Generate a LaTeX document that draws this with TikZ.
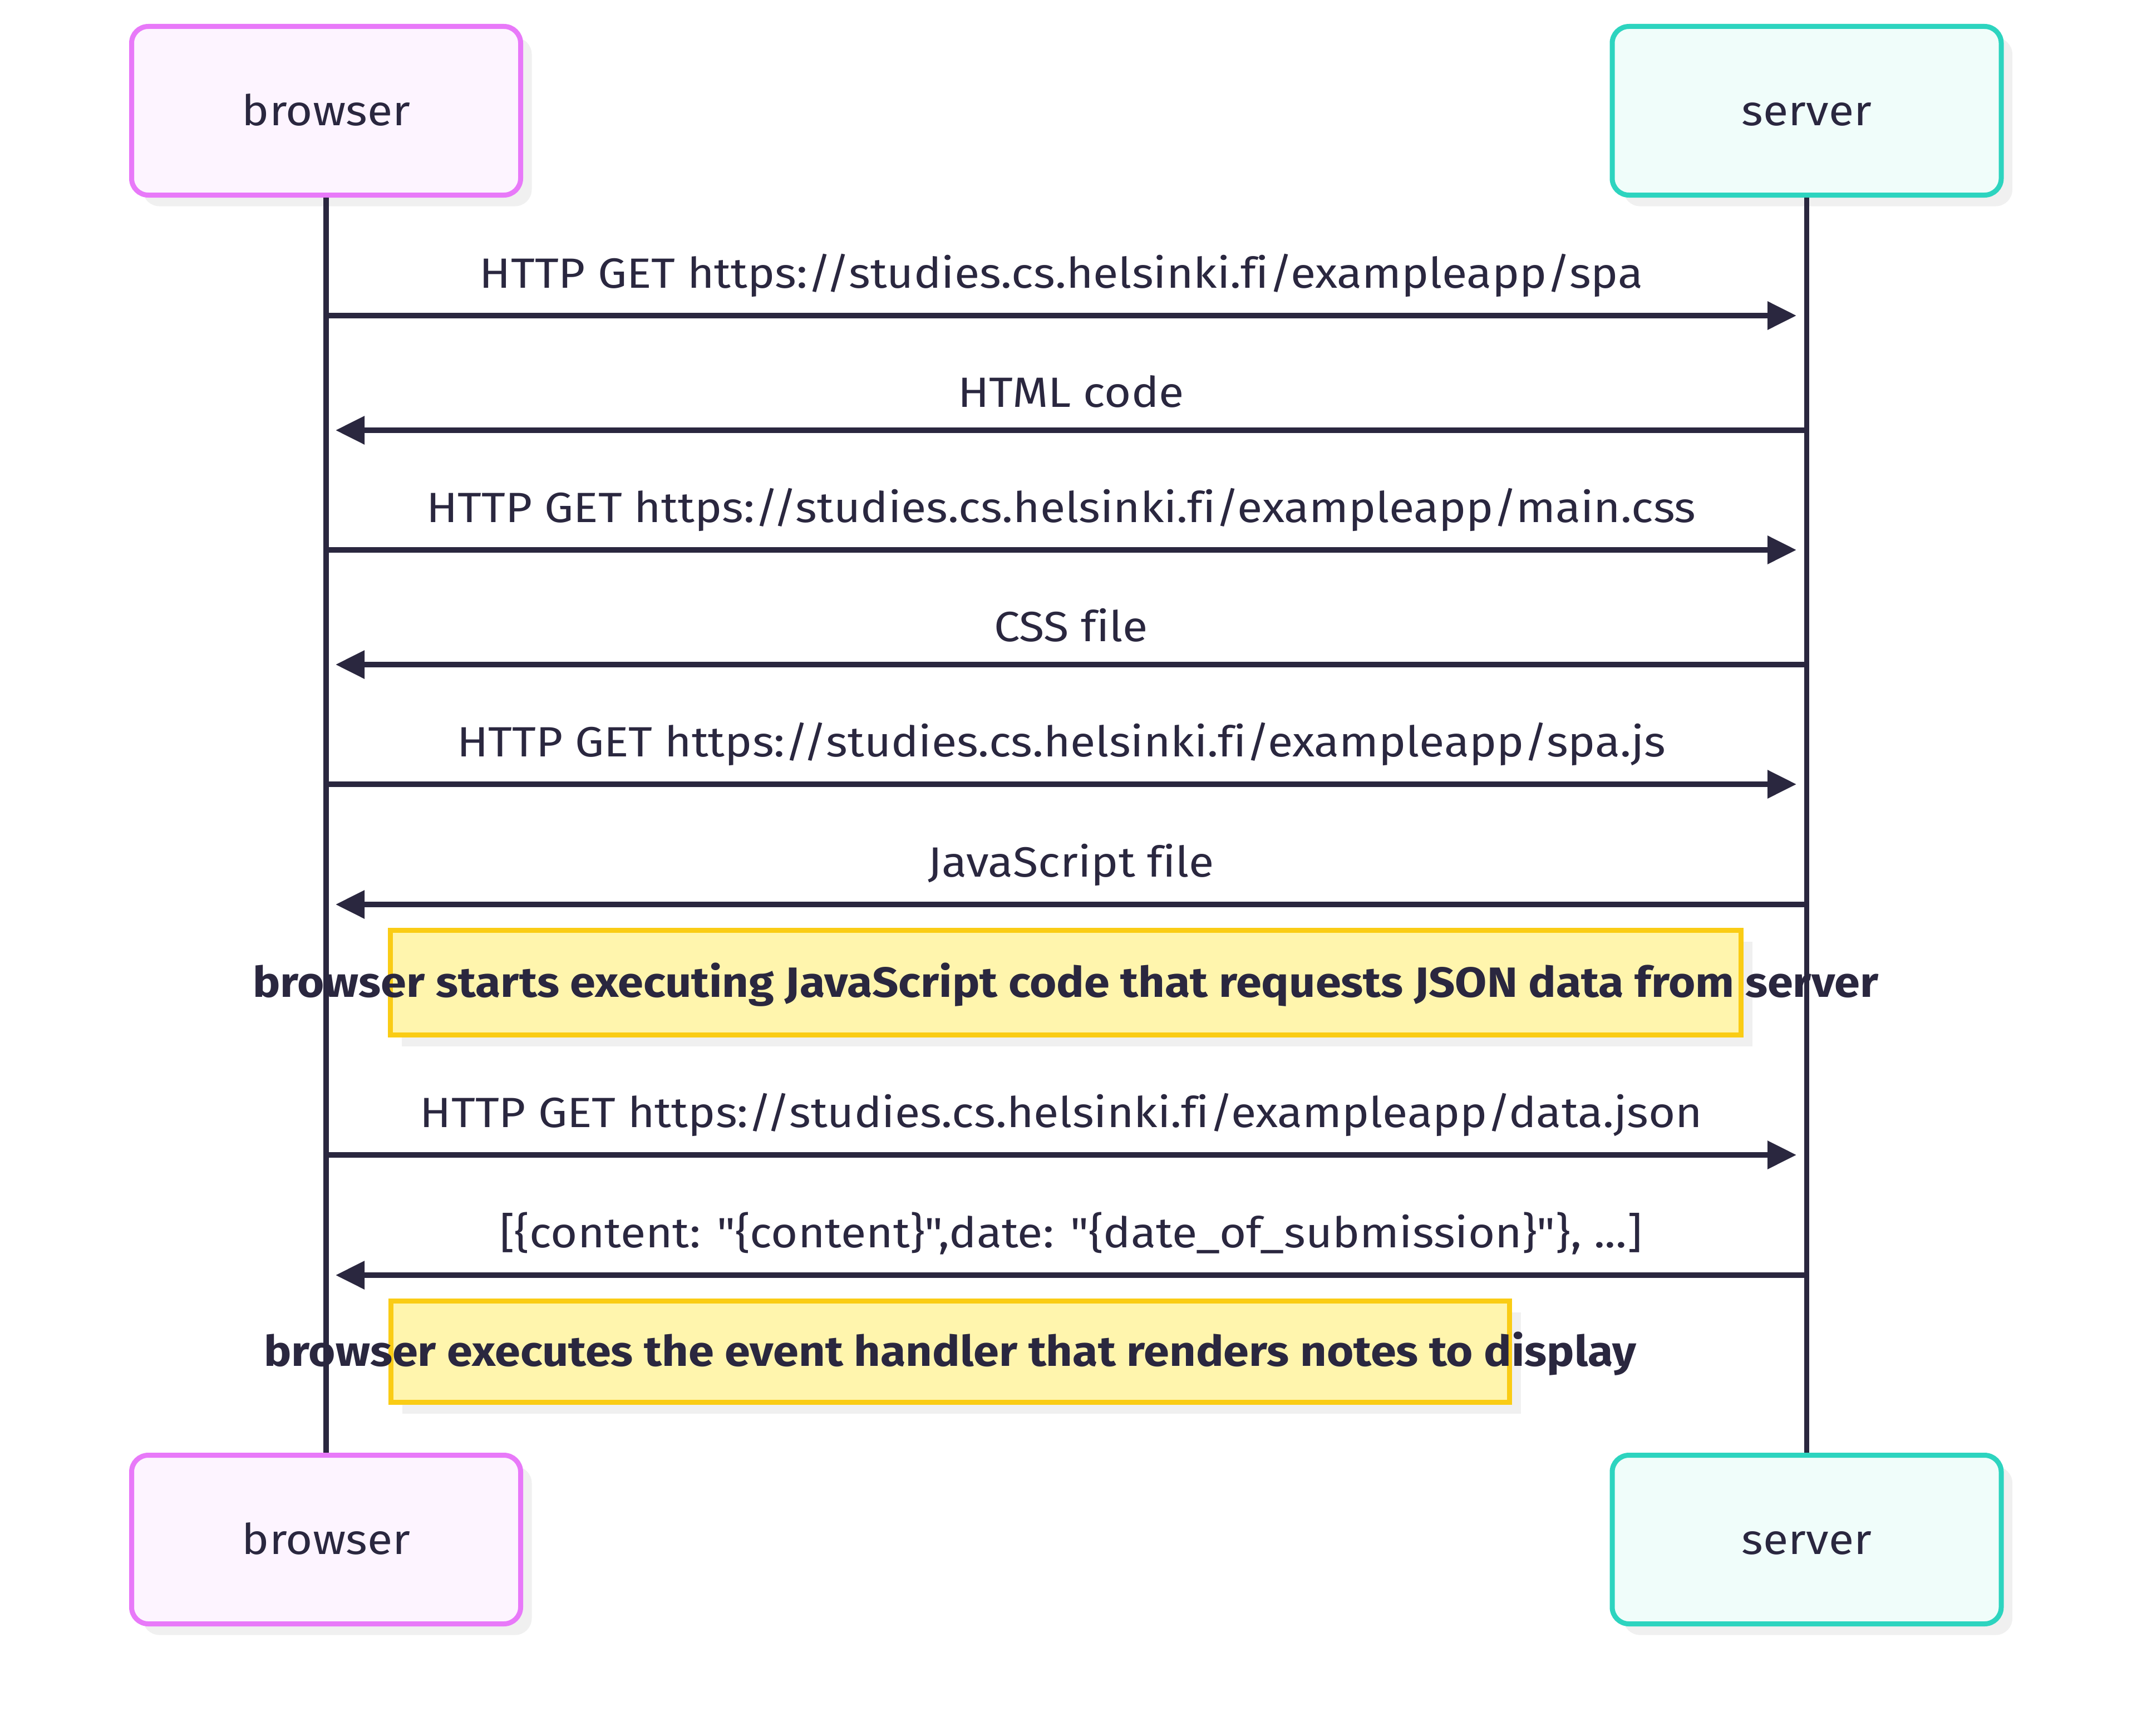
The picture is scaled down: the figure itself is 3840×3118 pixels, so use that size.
\documentclass[tikz,border=0pt]{standalone}
\usepackage{fontspec}
\setmainfont{Fira Sans}[Ligatures={CommonOff,TeXOff}, FakeStretch=1.09]
\usetikzlibrary{arrows.meta,shadows}
\definecolor{ink}{HTML}{2A273F}
\definecolor{brStroke}{HTML}{E879F9}
\definecolor{brFill}{HTML}{FDF4FF}
\definecolor{svStroke}{HTML}{2DD4BF}
\definecolor{svFill}{HTML}{F0FDFA}
\definecolor{noteStroke}{HTML}{FACC15}
\definecolor{noteFill}{HTML}{FFF5AD}
\definecolor{shadowgray}{HTML}{F0F0F0}
\newcommand{\dq}{\char34\relax}
\tikzset{
  actorbox/.style={draw, line width=9pt, rounded corners=30pt, minimum width=699pt, minimum height=303pt,
    inner sep=0pt, text=ink, font=\fontsize{76}{90}\selectfont, text height=52pt, text depth=0pt,
    drop shadow={shadow xshift=20pt, shadow yshift=-20pt, fill=shadowgray, opacity=1}},
  browserbox/.style={actorbox, fill=brFill, draw=brStroke},
  serverbox/.style={actorbox, fill=svFill, draw=svStroke},
  notebox/.style={draw=noteStroke, fill=noteFill, line width=9pt, inner sep=0pt,
    drop shadow={shadow xshift=20pt, shadow yshift=-20pt, fill=shadowgray, opacity=1}},
  notetext/.style={text=ink, inner sep=0pt, font=\fontsize{76}{90}\selectfont\bfseries, text height=52pt, text depth=0pt},
  lifeline/.style={draw=ink, line width=9.5pt},
  msg/.style={draw=ink, line width=9.5pt, -{Triangle[length=52pt, width=49pt]}},
  lbl/.style={text=ink, inner sep=0pt, font=\fontsize{76}{90}\selectfont, anchor=base, yshift=50pt},
  lbllow/.style={lbl, yshift=-8pt}
}
\begin{document}
\begin{tikzpicture}[x=1pt, y=-1pt]
\fill[white] (0,0) rectangle (3840,3118);
\useasboundingbox (0,0) rectangle (3840,3118);

% actors
\node[browserbox] (bTop) at (586,199) {browser};
\node[serverbox] (sTop) at (3246.5,199) {server};
\node[browserbox] (bBot) at (586,2766) {browser};
\node[serverbox] (sBot) at (3246.5,2766) {server};

% lifelines
\draw[lifeline] (bTop.south) -- (bBot.north);
\draw[lifeline] (sTop.south) -- (sBot.north);

% message end points
\coordinate (b1) at (586,567);  \coordinate (s1) at (3228,567);
\coordinate (s2) at (3246,773); \coordinate (b2) at (603,773);
\coordinate (b3) at (586,988);  \coordinate (s3) at (3228,988);
\coordinate (s4) at (3246,1194); \coordinate (b4) at (603,1194);
\coordinate (b5) at (586,1409); \coordinate (s5) at (3228,1409);
\coordinate (s6) at (3246,1625); \coordinate (b6) at (603,1625);
\coordinate (b7) at (586,2075); \coordinate (s7) at (3228,2075);
\coordinate (s8) at (3246,2291); \coordinate (b8) at (603,2291);

\draw[msg] (b1) -- (s1) node[lbl, midway] (m1) {HTTP GET https://studies.cs.helsinki.fi/exampleapp/spa};
\draw[msg] (s2) -- (b2) node[lbllow, midway] (m2) {HTML code};
\draw[msg] (b3) -- (s3) node[lbl, midway] (m3) {HTTP GET https://studies.cs.helsinki.fi/exampleapp/main.css};
\draw[msg] (s4) -- (b4) node[lbllow, midway] (m4) {CSS file};
\draw[msg] (b5) -- (s5) node[lbl, midway] (m5) {HTTP GET https://studies.cs.helsinki.fi/exampleapp/spa.js};
\draw[msg] (s6) -- (b6) node[lbl, midway] (m6) {JavaScript file};
\draw[msg] (b7) -- (s7) node[lbl, midway] (m7) {HTTP GET https://studies.cs.helsinki.fi/exampleapp/data.json};
\draw[msg] (s8) -- (b8) node[lbl, midway] (m8) {[\{content: \dq\{content\}\dq,date: \dq\{date\_of\_submission\}\dq\}, ...]};

% notes
\node[notebox, minimum width=2427pt, minimum height=188pt] (n1) at (1915,1765.5) {};
\node[notetext] (n1t) at (n1.center) {browser starts executing JavaScript code that requests JSON data from server};
\node[notebox, minimum width=2010pt, minimum height=182pt] (n2) at (1707.5,2428.5) {};
\node[notetext] (n2t) at (n2.center) {browser executes the event handler that renders notes to display};
\end{tikzpicture}
\end{document}
